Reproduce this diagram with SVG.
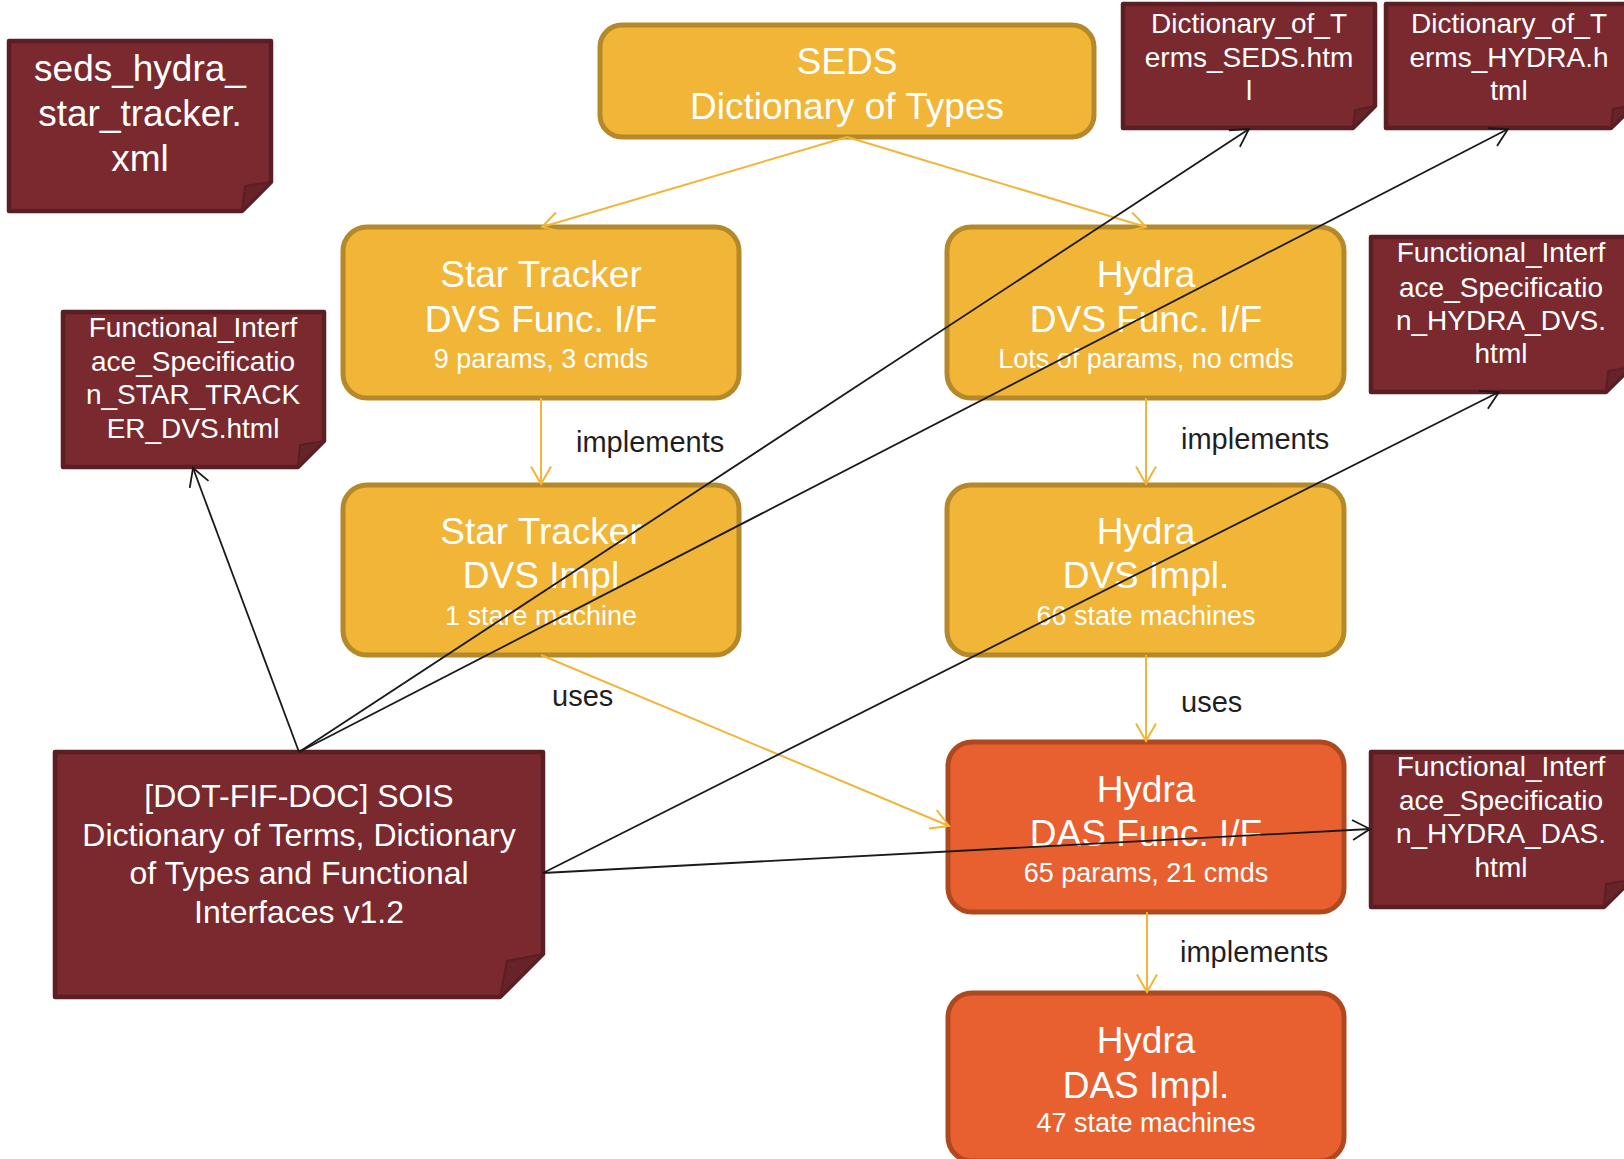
<svg xmlns="http://www.w3.org/2000/svg" width="1624" height="1159" viewBox="0 0 1624 1159">
  <style>
    .box-y { fill: #F1B537; stroke: #B5892A; stroke-width: 5; }
    .box-o { fill: #E85F30; stroke: #B0481F; stroke-width: 5; }
    .doc { fill: #7A2A2F; stroke: #5B1E22; stroke-width: 4.5; stroke-linejoin: round; }
    .curl { fill: #66232A; stroke: #5B1E22; stroke-width: 2; stroke-linejoin: round; }
    text { font-family: "Liberation Sans", Arial, sans-serif; text-anchor: middle; fill: #FFFFFF; }
    .t1 { font-size: 37px; }
    .t2 { font-size: 27px; }
    .td { font-size: 28px; }
    .tdl { font-size: 32px; }
    .tx { font-size: 37px; }
    .lbl { font-size: 29px; fill: #1F1F1F; text-anchor: start; }
    .cy { stroke: #F1B537; stroke-width: 2; fill: none; marker-end: url(#ay); }
    .ck { stroke: #1A1A1A; stroke-width: 1.8; fill: none; marker-end: url(#ak); }
  </style>
  <defs>
    <marker id="ay" markerUnits="userSpaceOnUse" markerWidth="24" markerHeight="24" viewBox="-20 -12 24 24" refX="0" refY="0" orient="auto">
      <path d="M-17.5,-10 L0,0 L-17.5,10" fill="none" stroke="#F1B537" stroke-width="2"/>
    </marker>
    <marker id="ak" markerUnits="userSpaceOnUse" markerWidth="24" markerHeight="24" viewBox="-20 -12 24 24" refX="0" refY="0" orient="auto">
      <path d="M-17.5,-10 L0,0 L-17.5,10" fill="none" stroke="#1A1A1A" stroke-width="1.8"/>
    </marker>
  </defs>

  <rect width="1624" height="1159" fill="#FFFFFF"/>

  <!-- document notes -->
  <g id="seds_xml">
    <path class="doc" d="M9,41 H271 V182 L242,211 H9 Z"/>
    <path class="curl" d="M245,186 L271,182 L242,211 Z"/>
    <text class="tx" x="140" y="81">seds_hydra_</text>
    <text class="tx" x="140" y="126">star_tracker.</text>
    <text class="tx" x="140" y="171">xml</text>
  </g>

  <g id="dict_terms_seds">
    <path class="doc" d="M1123,4 H1375 V106 L1353,128 H1123 Z"/>
    <path class="curl" d="M1355,110 L1375,106 L1353,128 Z"/>
    <text class="td" x="1249" y="33">Dictionary_of_T</text>
    <text class="td" x="1249" y="67">erms_SEDS.htm</text>
    <text class="td" x="1249" y="100">l</text>
  </g>

  <g id="dict_terms_hydra">
    <path class="doc" d="M1386,4 H1634 V105 L1611,128 H1386 Z"/>
    <path class="curl" d="M1613,109 L1634,105 L1611,128 Z"/>
    <text class="td" x="1509" y="33">Dictionary_of_T</text>
    <text class="td" x="1509" y="67">erms_HYDRA.h</text>
    <text class="td" x="1509" y="100">tml</text>
  </g>

  <g id="fis_star_tracker_dvs">
    <path class="doc" d="M63,312 H324 V441 L298,467 H63 Z"/>
    <path class="curl" d="M300,445 L324,441 L298,467 Z"/>
    <text class="td" x="193" y="337">Functional_Interf</text>
    <text class="td" x="193" y="371">ace_Specificatio</text>
    <text class="td" x="193" y="404">n_STAR_TRACK</text>
    <text class="td" x="193" y="438">ER_DVS.html</text>
  </g>

  <g id="fis_hydra_dvs">
    <path class="doc" d="M1371,237 H1631 V367 L1606,392 H1371 Z"/>
    <path class="curl" d="M1608,371 L1631,367 L1606,392 Z"/>
    <text class="td" x="1501" y="262">Functional_Interf</text>
    <text class="td" x="1501" y="297">ace_Specificatio</text>
    <text class="td" x="1501" y="330">n_HYDRA_DVS.</text>
    <text class="td" x="1501" y="363">html</text>
  </g>

  <g id="fis_hydra_das">
    <path class="doc" d="M1371,752 H1631 V880 L1604,907 H1371 Z"/>
    <path class="curl" d="M1606,884 L1631,880 L1604,907 Z"/>
    <text class="td" x="1501" y="776">Functional_Interf</text>
    <text class="td" x="1501" y="810">ace_Specificatio</text>
    <text class="td" x="1501" y="843">n_HYDRA_DAS.</text>
    <text class="td" x="1501" y="877">html</text>
  </g>

  <g id="dot_fif_doc">
    <path class="doc" d="M55,752 H543 V954 L500,997 H55 Z"/>
    <path class="curl" d="M507,961 L543,954 L500,997 Z"/>
    <text class="tdl" x="299" y="807">[DOT-FIF-DOC] SOIS</text>
    <text class="tdl" x="299" y="846">Dictionary of Terms, Dictionary</text>
    <text class="tdl" x="299" y="884">of Types and Functional</text>
    <text class="tdl" x="299" y="923">Interfaces v1.2</text>
  </g>

  <!-- interface / implementation blocks -->
  <g id="seds_dot">
    <rect class="box-y" x="600" y="25" width="494" height="112" rx="22"/>
    <text class="t1" x="847" y="74">SEDS</text>
    <text class="t1" x="847" y="119">Dictionary of Types</text>
  </g>

  <g id="st_dvs_if">
    <rect class="box-y" x="343" y="227" width="396" height="171" rx="24"/>
    <text class="t1" x="541" y="287">Star Tracker</text>
    <text class="t1" x="541" y="332">DVS Func. I/F</text>
    <text class="t2" x="541" y="368">9 params, 3 cmds</text>
  </g>

  <g id="st_dvs_impl">
    <rect class="box-y" x="343" y="485" width="396" height="170" rx="24"/>
    <text class="t1" x="541" y="544">Star Tracker</text>
    <text class="t1" x="541" y="588">DVS Impl</text>
    <text class="t2" x="541" y="625">1 stare machine</text>
  </g>

  <g id="hydra_dvs_if">
    <rect class="box-y" x="947" y="227" width="397" height="171" rx="24"/>
    <text class="t1" x="1146" y="287">Hydra</text>
    <text class="t1" x="1146" y="332">DVS Func. I/F</text>
    <text class="t2" x="1146" y="368">Lots of params, no cmds</text>
  </g>

  <g id="hydra_dvs_impl">
    <rect class="box-y" x="947" y="485" width="397" height="170" rx="24"/>
    <text class="t1" x="1146" y="544">Hydra</text>
    <text class="t1" x="1146" y="588">DVS Impl.</text>
    <text class="t2" x="1146" y="625">66 state machines</text>
  </g>

  <g id="hydra_das_if">
    <rect class="box-o" x="948" y="742" width="396" height="170" rx="24"/>
    <text class="t1" x="1146" y="802">Hydra</text>
    <text class="t1" x="1146" y="846">DAS Func. I/F</text>
    <text class="t2" x="1146" y="882">65 params, 21 cmds</text>
  </g>

  <g id="hydra_das_impl">
    <rect class="box-o" x="948" y="993" width="396" height="168" rx="24"/>
    <text class="t1" x="1146" y="1053">Hydra</text>
    <text class="t1" x="1146" y="1098">DAS Impl.</text>
    <text class="t2" x="1146" y="1132">47 state machines</text>
  </g>

  <!-- connectors -->
  <g id="connectors">
    <line class="cy" x1="847" y1="137" x2="542" y2="227"/>
    <line class="cy" x1="847" y1="137" x2="1146" y2="227"/>
    <line class="cy" x1="541" y1="398" x2="541" y2="484"/>
    <line class="cy" x1="1146" y1="398" x2="1146" y2="484"/>
    <line class="cy" x1="541" y1="655" x2="949" y2="826"/>
    <line class="cy" x1="1146" y1="655" x2="1146" y2="741"/>
    <line class="cy" x1="1147" y1="912" x2="1147" y2="992"/>

    <line class="ck" x1="299" y1="752" x2="193" y2="468"/>
    <line class="ck" x1="299" y1="752" x2="1249" y2="129"/>
    <line class="ck" x1="299" y1="752" x2="1508" y2="129"/>
    <line class="ck" x1="543" y1="873" x2="1499" y2="392"/>
    <line class="ck" x1="543" y1="873" x2="1370" y2="829"/>

    <text class="lbl" x="576" y="452">implements</text>
    <text class="lbl" x="1181" y="449">implements</text>
    <text class="lbl" x="552" y="706">uses</text>
    <text class="lbl" x="1181" y="712">uses</text>
    <text class="lbl" x="1180" y="962">implements</text>
  </g>
</svg>
